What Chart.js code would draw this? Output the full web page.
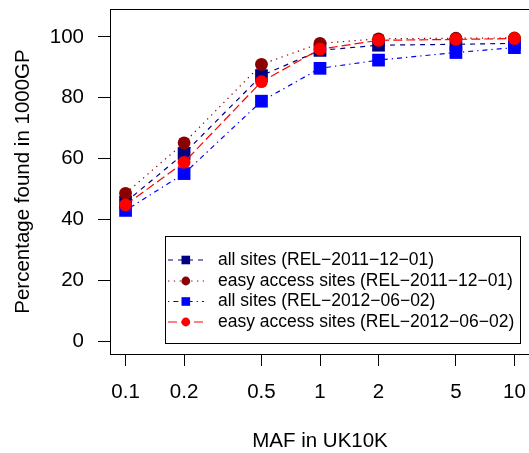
<!DOCTYPE html>
<html>
<head>
<meta charset="utf-8">
<script src="https://cdn.jsdelivr.net/npm/chart.js@4/dist/chart.umd.min.js"></script>
<style>
html,body{margin:0;padding:0;overflow:hidden;background:#fff;}
canvas{display:block;}
</style>
</head>
<body>
<canvas id="c" width="540" height="453" style="width:540px;height:453px"></canvas>
<script>
// ---- data ----
const mafValues = [0.1, 0.2, 0.5, 1, 2, 5, 10];
const xTickLabels = ['0.1', '0.2', '0.5', '1', '2', '5', '10'];
const yTickValues = [0, 20, 40, 60, 80, 100];
const allSites2011 = [45.7, 61.7, 87.3, 95.6, 97.3, 97.6, 97.9];
const easySites2011 = [48.6, 65.2, 91.0, 97.9, 99.4, 99.6, 99.7];
const allSites2012 = [43.0, 55.1, 78.9, 89.7, 92.4, 94.9, 96.5];
const easySites2012 = [44.8, 58.8, 85.3, 96.0, 98.9, 99.2, 99.5];
const seriesLabels = [
  'all sites (REL\u22122011\u221212\u221201)',
  'easy access sites (REL\u22122011\u221212\u221201)',
  'all sites (REL\u22122012\u221206\u221202)',
  'easy access sites (REL\u22122012\u221206\u221202)'
];

const FONT = '"Liberation Sans", Arial, Helvetica, sans-serif';
const pts = arr => mafValues.map((x, i) => ({x: x, y: arr[i]}));

function ds(label, data, color, dash, style, order) {
  return {
    label: label, data: pts(data), borderColor: color, backgroundColor: color,
    borderWidth: 1.2, borderDash: dash, tension: 0, fill: false,
    pointStyle: style, pointRadius: style === 'rect' ? 9 : 6.4,
    pointBorderWidth: 0, pointBackgroundColor: color, order: order
  };
}

const datasets = [
  ds(seriesLabels[0], allSites2011, '#000080', [5, 5], 'rect', 3),
  ds(seriesLabels[1], easySites2011, '#8B0000', [1.3, 4.5], 'circle', 2),
  ds(seriesLabels[2], allSites2012, '#0000FF', [1.3, 4, 5, 4], 'rect', 1),
  ds(seriesLabels[3], easySites2012, '#FF0000', [9, 4], 'circle', 0)
];

const boxPlugin = {
  id: 'boxLegend',
  afterDraw(chart) {
    const ctx = chart.ctx, a = chart.chartArea;
    ctx.save();
    ctx.strokeStyle = '#000';
    ctx.lineWidth = 1;
    ctx.beginPath();
    ctx.moveTo(Math.round(a.left) + 0.5, Math.round(a.top) + 0.5);
    ctx.lineTo(Math.round(a.right) + 0.5, Math.round(a.top) + 0.5);
    ctx.lineTo(Math.round(a.right) + 0.5, Math.round(a.bottom) + 0.5);
    ctx.stroke();
    // legend
    const lx = 165.5, ly = 236.5, lw = 355, lh = 107;
    ctx.fillStyle = '#fff';
    ctx.fillRect(lx, ly, lw, lh);
    ctx.strokeRect(lx, ly, lw, lh);
    const rowY = [260, 281, 301.5, 322];
    chart.data.datasets.forEach((d, i) => {
      const y = rowY[i];
      ctx.save();
      ctx.strokeStyle = d.borderColor;
      ctx.lineWidth = d.borderWidth;
      ctx.setLineDash(d.borderDash);
      ctx.beginPath();
      ctx.moveTo(168, y);
      ctx.lineTo(204, y);
      ctx.stroke();
      ctx.setLineDash([]);
      ctx.fillStyle = d.borderColor;
      if (d.pointStyle === 'rect') {
        ctx.fillRect(181.5, y - 4.3, 8.6, 8.6);
      } else {
        ctx.beginPath();
        ctx.arc(185.8, y, 4.4, 0, Math.PI * 2);
        ctx.fill();
      }
      ctx.restore();
      ctx.fillStyle = '#000';
      ctx.font = '17.5px ' + FONT;
      ctx.textAlign = 'left';
      ctx.textBaseline = 'middle';
      ctx.fillText(d.label, 218, y);
    });
    ctx.restore();
  }
};

new Chart(document.getElementById('c'), {
  type: 'line',
  data: {datasets: datasets},
  plugins: [boxPlugin],
  options: {
    responsive: false,
    devicePixelRatio: 1,
    animation: false,
    events: [],
    layout: {padding: {top: 8, right: 10, left: 0, bottom: 0}},
    plugins: {legend: {display: false}, tooltip: {enabled: false}},
    scales: {
      x: {
        type: 'logarithmic',
        min: Math.pow(10, -1.08),
        max: Math.pow(10, 1.08),
        afterBuildTicks: s => { s.ticks = mafValues.map(v => ({value: v})); },
        afterFit: s => { s.height = 99; s.paddingLeft = 0; s.paddingRight = 0; s.paddingTop = 0; s.paddingBottom = 0; },
        grid: {drawOnChartArea: false, drawTicks: true, tickLength: 12, color: '#000', lineWidth: 1},
        border: {display: true, color: '#000', width: 1},
        ticks: {
          autoSkip: false, maxRotation: 0, minRotation: 0, padding: 14,
          color: '#000', font: {family: FONT, size: 20.5},
          callback: (v, i) => xTickLabels[i]
        },
        title: {display: true, text: 'MAF in UK10K', color: '#000',
          font: {family: FONT, size: 20.5, lineHeight: 1}, padding: {top: 0, bottom: 1}}
      },
      y: {
        type: 'linear',
        min: -4.2,
        max: 109.2,
        afterBuildTicks: s => { s.ticks = yTickValues.map(v => ({value: v})); },
        afterFit: s => { s.width = 110; s.paddingLeft = 0; s.paddingRight = 0; s.paddingTop = 0; s.paddingBottom = 0; },
        grid: {drawOnChartArea: false, drawTicks: true, tickLength: 12, color: '#000', lineWidth: 1},
        border: {display: true, color: '#000', width: 1},
        ticks: {
          padding: 14, color: '#000', font: {family: FONT, size: 20.5},
          callback: v => String(v)
        },
        title: {display: true, text: 'Percentage found in 1000GP', color: '#000',
          font: {family: FONT, size: 20.5, lineHeight: 1}, padding: {top: 13, bottom: 0}}
      }
    }
  }
});
</script>
</body>
</html>
